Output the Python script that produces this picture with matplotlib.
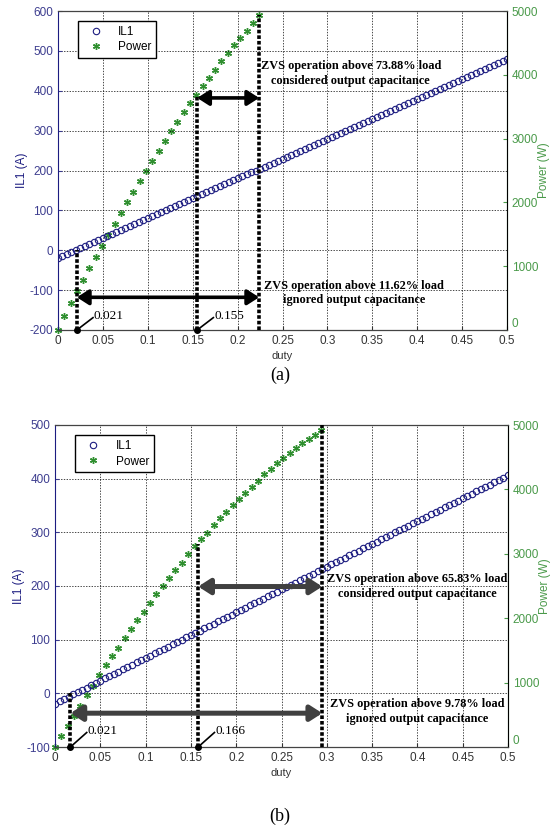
import matplotlib.pyplot as plt
from matplotlib.ticker import FuncFormatter, MultipleLocator

plt.rcParams['font.family'] = ['Liberation Sans', 'DejaVu Sans']
plt.rcParams['axes.unicode_minus'] = False

# duty sweep used for the IL1 curve
duty_il = [0, 0.005, 0.01, 0.015, 0.02, 0.025, 0.03, 0.035, 0.04, 0.045,
           0.05, 0.055, 0.06, 0.065, 0.07, 0.075, 0.08, 0.085, 0.09, 0.095,
           0.1, 0.105, 0.11, 0.115, 0.12, 0.125, 0.13, 0.135, 0.14, 0.145,
           0.15, 0.155, 0.16, 0.165, 0.17, 0.175, 0.18, 0.185, 0.19, 0.195,
           0.2, 0.205, 0.21, 0.215, 0.22, 0.225, 0.23, 0.235, 0.24, 0.245,
           0.25, 0.255, 0.26, 0.265, 0.27, 0.275, 0.28, 0.285, 0.29, 0.295,
           0.3, 0.305, 0.31, 0.315, 0.32, 0.325, 0.33, 0.335, 0.34, 0.345,
           0.35, 0.355, 0.36, 0.365, 0.37, 0.375, 0.38, 0.385, 0.39, 0.395,
           0.4, 0.405, 0.41, 0.415, 0.42, 0.425, 0.43, 0.435, 0.44, 0.445,
           0.45, 0.455, 0.46, 0.465, 0.47, 0.475, 0.48, 0.485, 0.49, 0.495,
           0.5]

il1_a = [-20, -15, -10, -5, 0, 5, 10, 15, 20, 25,
         30, 35, 40, 45, 50, 55, 60, 65, 70, 75,
         80, 85, 90, 95, 100, 105, 110, 115, 120, 125,
         130, 135, 140, 145, 150, 155, 160, 165, 170, 175,
         180, 185, 190, 195, 200, 205, 210, 215, 220, 225,
         230, 235, 240, 245, 250, 255, 260, 265, 270, 275,
         280, 285, 290, 295, 300, 305, 310, 315, 320, 325,
         330, 335, 340, 345, 350, 355, 360, 365, 370, 375,
         380, 385, 390, 395, 400, 405, 410, 415, 420, 425,
         430, 435, 440, 445, 450, 455, 460, 465, 470, 475,
         480]

il1_b = [-19, -14.75, -10.5, -6.25, -2, 2.25, 6.5, 10.75, 15, 19.25,
         23.5, 27.75, 32, 36.25, 40.5, 44.75, 49, 53.25, 57.5, 61.75,
         66, 70.25, 74.5, 78.75, 83, 87.25, 91.5, 95.75, 100, 104.25,
         108.5, 112.75, 117, 121.25, 125.5, 129.75, 134, 138.25, 142.5, 146.75,
         151, 155.25, 159.5, 163.75, 168, 172.25, 176.5, 180.75, 185, 189.25,
         193.5, 197.75, 202, 206.25, 210.5, 214.75, 219, 223.25, 227.5, 231.75,
         236, 240.25, 244.5, 248.75, 253, 257.25, 261.5, 265.75, 270, 274.25,
         278.5, 282.75, 287, 291.25, 295.5, 299.75, 304, 308.25, 312.5, 316.75,
         321, 325.25, 329.5, 333.75, 338, 342.25, 346.5, 350.75, 355, 359.25,
         363.5, 367.75, 372, 376.25, 380.5, 384.75, 389, 393.25, 397.5, 401.75,
         406]

# duty sweep used for the power curve
duty_p = [0, 0.007, 0.014, 0.021, 0.028, 0.035, 0.042, 0.049, 0.056, 0.063,
          0.07, 0.077, 0.084, 0.091, 0.098, 0.105, 0.112, 0.119, 0.126, 0.133,
          0.14, 0.147, 0.154, 0.161, 0.168, 0.175, 0.182, 0.189, 0.196, 0.203,
          0.21, 0.217, 0.224, 0.231, 0.238, 0.245, 0.252, 0.259, 0.266, 0.273,
          0.28, 0.287, 0.294]

power_a = [0, 215, 420, 610, 790, 965, 1140, 1320, 1495, 1665,
           1835, 2005, 2170, 2335, 2495, 2650, 2810, 2965, 3120, 3265,
           3410, 3555, 3690, 3820, 3950, 4080, 4210, 4340, 4460, 4575,
           4690, 4805, 4930]

power_b = [0, 170, 328, 483, 635, 808, 950, 1125, 1266, 1406,
           1542, 1698, 1838, 1967, 2100, 2242, 2375, 2500, 2617, 2750,
           2862, 2997, 3121, 3225, 3328, 3448, 3550, 3654, 3758, 3846,
           3950, 4042, 4133, 4239, 4317, 4405, 4492, 4570, 4648, 4720,
           4790, 4850, 4915]

power_ticks = [0, 1000, 2000, 3000, 4000, 5000]

# vertical marker lines (duty, top in A) and annotation texts
mark_duty_a = [0.021, 0.155, 0.224]
mark_top_a = [0, 390, 590]
mark_duty_b = [0.017, 0.158, 0.295]
mark_top_b = [0, 278, 500]
point_labels_a = ['0.021', '0.155']
point_labels_b = ['0.021', '0.166']
notes_a = ['ZVS operation above 73.88% load\nconsidered output capacitance',
           'ZVS operation above 11.62% load\nignored output capacitance']
notes_b = ['ZVS operation above 65.83% load\nconsidered output capacitance',
           'ZVS operation above 9.78% load\nignored output capacitance']

C_IL = '#1c1c80'
C_P = '#2f8f2f'
C_LT = '#3d3d8f'
C_RT = '#4a9a4a'

fig = plt.figure(figsize=(5.55, 8.33), dpi=100)


def panel(rect, il1, power, ylim, marks, tops, arrow_y, arrow_col, arrow_lw,
          labels, label_y, notes, note_xy):
    ax = fig.add_axes(rect)
    ax2 = ax.twinx()
    ax.set_zorder(ax2.get_zorder() + 1)
    ax.patch.set_visible(False)

    h1, = ax.plot(duty_il, il1, 'o', mfc='none', mec=C_IL, ms=4.6, mew=0.8)
    h2, = ax2.plot(duty_p[:len(power)], power, ls='none', marker=(6, 2, 0),
                   color=C_P, ms=5, mew=1.0, clip_on=False)

    ax.set_xlim(0, 0.5)
    ax.set_ylim(*ylim)
    ax2.set_ylim(0, 5000)
    ax.xaxis.set_major_locator(MultipleLocator(0.05))
    ax.yaxis.set_major_locator(MultipleLocator(100))
    ax2.set_yticks(power_ticks)
    ax.xaxis.set_major_formatter(FuncFormatter(lambda v, p: '{:g}'.format(round(v, 3))))
    ax.grid(True, color='k', ls=(0, (2, 2)), lw=0.5)

    ax.tick_params(axis='x', direction='in', length=3, labelsize=8.5, colors='#333333')
    ax.tick_params(axis='y', direction='in', length=3, labelsize=8.5, colors=C_LT)
    ax2.tick_params(axis='y', direction='in', length=3, labelsize=8.5, colors=C_RT)
    # right-hand "0" sits just above the corner, as in the original
    ax2.yaxis.get_major_ticks()[0].label2.set_verticalalignment('bottom')
    for s in ('top', 'bottom'):
        ax.spines[s].set_color('#444444')
    ax.spines['left'].set_color(C_IL)
    ax2.spines['right'].set_color(C_RT)
    ax2.spines['left'].set_visible(False)

    ax.set_xlabel('duty', fontsize=8, color='#333333', labelpad=3)
    ax.set_ylabel('IL1 (A)', fontsize=8.5, color=C_IL, labelpad=1)
    ax2.set_ylabel('Power (W)', fontsize=8.5, color=C_RT, labelpad=0)

    ax.legend([h1, h2], ['IL1', 'Power'], loc='upper left',
              bbox_to_anchor=(0.045, 0.968), fancybox=False, edgecolor='k',
              framealpha=1, fontsize=8.5, borderaxespad=0, handlelength=2.2,
              borderpad=0.4, labelspacing=0.3)

    # heavy dotted vertical markers
    for d, top in zip(marks, tops):
        ax.plot([d, d], [ylim[0], top], color='k', lw=2.6, ls=(0, (1.0, 0.55)),
                zorder=4)

    # horizontal arrows
    style = '<|-|>,head_length=0.7,head_width=0.45'
    ax.annotate('', xy=(marks[2], arrow_y[0]), xytext=(marks[1], arrow_y[0]),
                arrowprops=dict(arrowstyle=style, color=arrow_col, lw=arrow_lw,
                                shrinkA=0, shrinkB=0, mutation_scale=10), zorder=5)
    ax.annotate('', xy=(marks[2], arrow_y[1]), xytext=(marks[0], arrow_y[1]),
                arrowprops=dict(arrowstyle=style, color=arrow_col, lw=arrow_lw,
                                shrinkA=0, shrinkB=0, mutation_scale=10), zorder=5)

    # point labels at the bottom
    span = ylim[1] - ylim[0]
    for d, lab in zip(marks[:2], labels):
        ax.plot(d, ylim[0], 'o', color='k', ms=4, clip_on=False, zorder=6)
        ax.plot([d, d + 0.018], [ylim[0], label_y - 0.005 * span], color='k', lw=1.2,
                zorder=6)
        ax.text(d + 0.019, label_y, lab, family='Liberation Serif', fontsize=9.5,
                va='center', ha='left', zorder=6)

    for (x, y), note in zip(note_xy, notes):
        ax.text(x, y, note, family='Liberation Serif', fontweight='bold',
                fontsize=8.8, ha='center', va='center', multialignment='center',
                linespacing=1.25, zorder=6)
    return ax


panel([58 / 555, 1 - 330 / 833, 449 / 555, 319 / 833], il1_a, power_a,
      (-200, 600), mark_duty_a, mark_top_a, [382, -118], 'k', 2.6,
      point_labels_a, -165, notes_a, [(0.326, 443), (0.33, -107)])

panel([55 / 555, 1 - 747 / 833, 453 / 555, 322 / 833], il1_b, power_b,
      (-100, 500), mark_duty_b, mark_top_b, [199, -37], '#404040', 3.6,
      point_labels_b, -70, notes_b, [(0.4, 199), (0.4, -34)])

fig.text(280 / 555, 1 - 375 / 833, '(a)', family='Liberation Serif', fontsize=13,
         ha='center', va='center')
fig.text(280 / 555, 1 - 816 / 833, '(b)', family='Liberation Serif', fontsize=13,
         ha='center', va='center')

fig.savefig('out.png', dpi=100)
